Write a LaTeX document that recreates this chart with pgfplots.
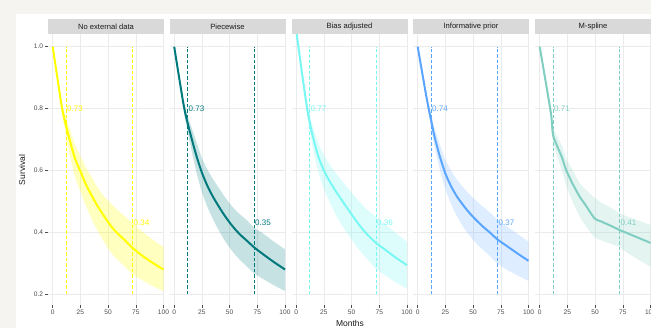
\documentclass[border=0pt]{standalone}
\usepackage{fontspec}
\setmainfont{Liberation Sans}
\usepackage{pgfplots}
\usepackage{pgfplotstable}
\pgfplotsset{compat=1.18}
\usepgfplotslibrary{fillbetween}
\definecolor{bgc}{HTML}{F5F4F0}
\definecolor{stripc}{HTML}{D9D9D9}
\definecolor{gridc}{HTML}{EBEBEB}
\definecolor{tickc}{HTML}{4D4D4D}
\definecolor{titc}{HTML}{1A1A1A}
\definecolor{colA}{HTML}{FFFF00}
\definecolor{colB}{HTML}{00797D}
\definecolor{colC}{HTML}{79F7F3}
\definecolor{colD}{HTML}{5AA5FF}
\definecolor{colE}{HTML}{80CDC1}

\pgfplotstableread{
t s lo hi
0 1.000 1.000 1.000
2 0.952 0.948 0.956
4 0.905 0.897 0.912
6 0.857 0.845 0.868
8 0.810 0.792 0.825
10 0.775 0.752 0.795
12 0.745 0.715 0.770
15 0.703 0.658 0.738
20 0.640 0.580 0.685
25 0.597 0.532 0.647
30 0.555 0.485 0.610
35 0.520 0.445 0.580
40 0.488 0.408 0.548
45 0.460 0.378 0.522
50 0.433 0.348 0.503
55 0.410 0.325 0.484
60 0.392 0.307 0.467
65 0.375 0.290 0.453
72 0.350 0.265 0.430
80 0.327 0.247 0.405
90 0.302 0.227 0.377
100 0.280 0.210 0.353
}\tA
\pgfplotstableread{
t s lo hi
0 1.000 1.000 1.000
2 0.955 0.951 0.959
4 0.910 0.902 0.917
6 0.866 0.854 0.876
8 0.822 0.806 0.836
10 0.785 0.764 0.803
12 0.755 0.728 0.778
15 0.713 0.676 0.746
20 0.648 0.595 0.693
25 0.593 0.530 0.640
30 0.550 0.482 0.603
35 0.515 0.443 0.572
40 0.485 0.408 0.545
45 0.457 0.377 0.518
50 0.432 0.351 0.494
55 0.410 0.328 0.473
60 0.391 0.309 0.456
65 0.375 0.292 0.441
72 0.352 0.268 0.416
80 0.330 0.250 0.397
90 0.304 0.229 0.370
100 0.280 0.211 0.345
}\tB
\pgfplotstableread{
t s lo hi
0 1.052 1.052 1.052
2 1.000 0.996 1.004
4 0.947 0.939 0.955
6 0.895 0.883 0.907
8 0.845 0.829 0.860
10 0.797 0.777 0.815
12 0.759 0.733 0.782
15 0.710 0.672 0.742
20 0.645 0.595 0.688
25 0.600 0.540 0.650
30 0.566 0.499 0.620
35 0.537 0.462 0.595
40 0.510 0.430 0.572
45 0.484 0.402 0.550
50 0.458 0.377 0.529
55 0.433 0.352 0.508
60 0.410 0.330 0.488
65 0.390 0.310 0.470
72 0.366 0.282 0.450
80 0.345 0.262 0.427
90 0.318 0.238 0.398
100 0.294 0.218 0.370
}\tC
\pgfplotstableread{
t s lo hi
0 1.000 1.000 1.000
2 0.958 0.954 0.962
4 0.917 0.909 0.924
6 0.876 0.864 0.886
8 0.835 0.820 0.849
10 0.798 0.779 0.815
12 0.764 0.740 0.785
15 0.712 0.680 0.740
20 0.645 0.603 0.684
25 0.590 0.540 0.634
30 0.550 0.493 0.600
35 0.518 0.455 0.572
40 0.493 0.424 0.550
45 0.470 0.398 0.530
50 0.450 0.376 0.512
55 0.432 0.357 0.495
60 0.415 0.340 0.480
65 0.400 0.324 0.465
72 0.377 0.299 0.441
80 0.357 0.280 0.421
90 0.332 0.261 0.395
100 0.308 0.243 0.370
}\tD
\pgfplotstableread{
t s lo hi
0 1.000 1.000 1.000
3 0.937 0.931 0.943
6 0.874 0.862 0.886
9 0.810 0.793 0.827
10.5 0.775 0.755 0.795
12 0.715 0.690 0.740
15 0.685 0.652 0.716
20 0.643 0.600 0.680
24 0.600 0.550 0.637
30 0.555 0.497 0.600
36 0.516 0.452 0.560
42 0.485 0.418 0.537
49.5 0.445 0.384 0.512
55 0.436 0.375 0.498
60 0.428 0.368 0.488
65 0.420 0.362 0.478
72 0.408 0.352 0.462
80 0.396 0.332 0.450
90 0.381 0.310 0.437
100 0.366 0.289 0.424
}\tE

\pgfplotsset{
  panel/.style={
    scale only axis, width=116pt, height=271pt,
    xmin=-4.24, xmax=100.45, ymin=0.1654, ymax=1.041,
    axis line style={draw=none},
    xtick={0,25,50,75,100}, ytick={0.2,0.4,0.6,0.8,1.0},
    xticklabels={0,25,50,75,100},
    yticklabels={0.2,0.4,0.6,0.8,1.0},
    xtick pos=bottom, ytick pos=left,
    tick align=outside, major tick length=2.75pt,
    tick style={color=tickc, line width=0.5pt},
    grid=major, major grid style={color=gridc, line width=0.6pt},
    ticklabel style={font=\fontsize{6.6}{7}\selectfont, text=tickc},
    xticklabel style={inner sep=1pt, yshift=-1pt},
    yticklabel style={inner sep=1pt, xshift=-1pt},
    /pgf/number format/assume math mode=true,
    clip=true,
  },
  inner/.style={yticklabels={}, ytick style={draw=none}},
  curve/.style={line width=2pt, no marks, smooth, tension=0.4},
  edge/.style={draw=none, smooth, tension=0.4},
  vline/.style={line width=0.9pt, dash pattern=on 3.5pt off 2pt, no marks},
}
\tikzset{lab/.style={anchor=west, inner sep=1pt, font=\fontsize{8}{9}\selectfont}}

\newcommand{\strip}[2]{%
  \fill[stripc] (#1pt,294pt) rectangle ({#1pt+116pt},309pt);
  \node[font=\fontsize{7.6}{8}\selectfont, text=titc] at ({#1pt+58pt},301.5pt) {#2};}

\begin{document}
\begin{tikzpicture}
\fill[bgc] (0,0) rectangle (16pt,328pt);
\fill[bgc] (16pt,314pt) rectangle (651pt,328pt);

% Panel 1
\begin{axis}[panel, at={(48pt,23pt)}, anchor=south west]
\addplot[edge, name path=hi] table[x=t,y=hi]{\tA};
\addplot[edge, name path=lo] table[x=t,y=lo]{\tA};
\addplot[fill=colA, fill opacity=0.25, draw=none] fill between[of=hi and lo];
\addplot[draw=colA, vline] coordinates {(12,0.2) (12,1.0)};
\addplot[draw=colA, vline] coordinates {(72,0.2) (72,1.0)};
\addplot[draw=colA, curve] table[x=t,y=s]{\tA};
\node[lab, text=colA] at (axis cs:12,0.80) {0.73};
\node[lab, text=colA] at (axis cs:72,0.43) {0.34};
\end{axis}

% Panel 2
\begin{axis}[panel, inner, at={(169.5pt,23pt)}, anchor=south west]
\addplot[edge, name path=hi] table[x=t,y=hi]{\tB};
\addplot[edge, name path=lo] table[x=t,y=lo]{\tB};
\addplot[fill=colB, fill opacity=0.22, draw=none] fill between[of=hi and lo];
\addplot[draw=colB, vline] coordinates {(12,0.2) (12,1.0)};
\addplot[draw=colB, vline] coordinates {(72,0.2) (72,1.0)};
\addplot[draw=colB, curve] table[x=t,y=s]{\tB};
\node[lab, text=colB] at (axis cs:12,0.80) {0.73};
\node[lab, text=colB] at (axis cs:72,0.43) {0.35};
\end{axis}

% Panel 3
\begin{axis}[panel, inner, at={(291.5pt,23pt)}, anchor=south west]
\addplot[edge, name path=hi] table[x=t,y=hi]{\tC};
\addplot[edge, name path=lo] table[x=t,y=lo]{\tC};
\addplot[fill=colC, fill opacity=0.25, draw=none] fill between[of=hi and lo];
\addplot[draw=colC, vline] coordinates {(12,0.2) (12,1.0)};
\addplot[draw=colC, vline] coordinates {(72,0.2) (72,1.0)};
\addplot[draw=colC, curve] table[x=t,y=s]{\tC};
\node[lab, text=colC] at (axis cs:12,0.80) {0.77};
\node[lab, text=colC] at (axis cs:72,0.43) {0.36};
\end{axis}

% Panel 4
\begin{axis}[panel, inner, at={(413pt,23pt)}, anchor=south west]
\addplot[edge, name path=hi] table[x=t,y=hi]{\tD};
\addplot[edge, name path=lo] table[x=t,y=lo]{\tD};
\addplot[fill=colD, fill opacity=0.2, draw=none] fill between[of=hi and lo];
\addplot[draw=colD, vline] coordinates {(12,0.2) (12,1.0)};
\addplot[draw=colD, vline] coordinates {(72,0.2) (72,1.0)};
\addplot[draw=colD, curve] table[x=t,y=s]{\tD};
\node[lab, text=colD] at (axis cs:12,0.80) {0.74};
\node[lab, text=colD] at (axis cs:72,0.43) {0.37};
\end{axis}

% Panel 5
\begin{axis}[panel, inner, at={(535pt,23pt)}, anchor=south west]
\addplot[edge, name path=hi] table[x=t,y=hi]{\tE};
\addplot[edge, name path=lo] table[x=t,y=lo]{\tE};
\addplot[fill=colE, fill opacity=0.22, draw=none] fill between[of=hi and lo];
\addplot[draw=colE, vline] coordinates {(12,0.2) (12,1.0)};
\addplot[draw=colE, vline] coordinates {(72,0.2) (72,1.0)};
\addplot[draw=colE, curve] table[x=t,y=s]{\tE};
\node[lab, text=colE] at (axis cs:12,0.80) {0.71};
\node[lab, text=colE] at (axis cs:72,0.43) {0.41};
\end{axis}

\strip{48}{No external data}
\strip{169.5}{Piecewise}
\strip{291.5}{Bias adjusted}
\strip{413}{Informative prior}
\strip{535}{M-spline}

\node[rotate=90, font=\fontsize{8.5}{9}\selectfont, text=titc] at (22pt,158pt) {Survival};
\node[font=\fontsize{8.5}{9}\selectfont, text=titc] at (350pt,5pt) {Months};
\pgfresetboundingbox
\useasboundingbox (0,0) rectangle (651pt,328pt);
\end{tikzpicture}
\end{document}
